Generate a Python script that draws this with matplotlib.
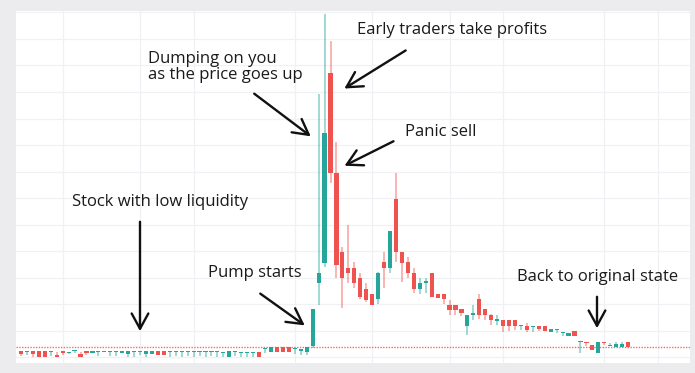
import matplotlib.pyplot as plt
import numpy as np

# OHLC of the daily candles (price units, 103 days)
opens = [1.256, 1.22, 1.256, 1.256, 1.256, 1.22, 1.094, 1.256, 1.16, 1.245,
         1.132, 1.256, 1.16, 1.22, 1.256, 1.22, 1.22, 1.16, 1.132, 1.22,
         1.22, 1.132, 1.132, 1.256, 1.256, 1.22, 1.22, 1.22, 1.22, 1.22,
         1.22, 1.22, 1.22, 1.22, 1.18, 1.008, 1.22, 1.18, 1.18, 1.18,
         1.22, 1.31, 1.218, 1.407, 1.407, 1.407, 1.31, 1.256, 1.196, 1.433,
         3.795, 4.571, 11.715, 7.949, 4.985, 4.382, 4.382, 3.983, 3.58, 3.392,
         3.192, 4.586, 4.36, 6.958, 4.985, 4.586, 4.194, 3.58, 3.795, 4.194,
         3.38, 3.38, 2.978, 2.978, 2.816, 2.187, 2.601, 3.192, 2.816, 2.601,
         2.386, 2.413, 2.413, 2.413, 2.187, 2.187, 2.16, 2.187, 2.187, 1.972,
         2.024, 1.911, 1.821, 2.01, 1.596, 1.596, 1.471, 1.181, 1.596, 1.414,
         1.407, 1.407, 1.596]
highs = [1.256, 1.256, 1.256, 1.256, 1.26, 1.256, 1.22, 1.256, 1.22, 1.282,
         1.22, 1.256, 1.256, 1.256, 1.256, 1.256, 1.256, 1.256, 1.256, 1.256,
         1.256, 1.256, 1.256, 1.256, 1.256, 1.256, 1.256, 1.256, 1.256, 1.256,
         1.256, 1.256, 1.256, 1.256, 1.22, 1.256, 1.256, 1.22, 1.22, 1.22,
         1.22, 1.345, 1.407, 1.407, 1.407, 1.407, 1.345, 1.31, 1.407, 2.82,
         10.924, 13.937, 12.92, 9.116, 5.173, 5.99, 4.597, 4.171, 3.795, 3.39,
         4.232, 4.985, 5.765, 7.96, 4.985, 4.797, 4.36, 3.983, 3.983, 4.194,
         3.38, 3.38, 3.166, 2.978, 2.816, 2.601, 2.978, 3.392, 2.816, 2.639,
         2.601, 2.413, 2.413, 2.413, 2.224, 2.311, 2.187, 2.187, 2.187, 2.062,
         2.074, 1.934, 1.934, 2.01, 1.633, 1.596, 1.471, 1.596, 1.596, 1.546,
         1.584, 1.565, 1.596]
lows = [1.07, 1.094, 1.008, 1.03, 1.0, 1.07, 1.0, 1.094, 1.132, 1.16,
        1.0, 1.094, 1.16, 1.07, 1.22, 1.07, 1.07, 1.16, 1.03, 1.03,
        1.094, 1.03, 1.132, 1.094, 1.094, 1.03, 1.05, 1.03, 1.05, 1.03,
        1.05, 1.03, 1.05, 1.03, 1.03, 1.0, 1.05, 1.03, 1.03, 1.03,
        1.0, 1.16, 1.218, 1.196, 1.196, 1.196, 1.132, 1.094, 1.094, 1.36,
        2.978, 4.409, 7.572, 3.995, 2.853, 3.795, 3.607, 3.192, 3.102, 2.978,
        3.015, 3.607, 4.194, 4.608, 3.844, 3.983, 3.418, 3.392, 3.418, 3.279,
        3.23, 3.015, 2.601, 2.601, 2.563, 1.848, 2.413, 2.439, 2.413, 2.224,
        2.224, 1.972, 2.0, 2.036, 2.036, 1.972, 1.972, 2.01, 2.01, 1.972,
        1.911, 1.81, 1.821, 1.81, 1.181, 1.445, 1.271, 1.181, 1.471, 1.414,
        1.407, 1.407, 1.407]
closes = [1.132, 1.256, 1.132, 1.03, 1.008, 1.256, 1.008, 1.18, 1.19, 1.282,
          1.008, 1.16, 1.256, 1.256, 1.22, 1.256, 1.256, 1.256, 1.256, 1.256,
          1.256, 1.256, 1.256, 1.094, 1.094, 1.256, 1.256, 1.256, 1.256, 1.256,
          1.256, 1.256, 1.256, 1.256, 1.22, 1.256, 1.256, 1.22, 1.22, 1.22,
          1.008, 1.345, 1.407, 1.196, 1.196, 1.196, 1.345, 1.31, 1.407, 2.816,
          4.194, 9.455, 7.949, 4.484, 3.983, 4.171, 3.795, 3.279, 3.166, 2.978,
          4.194, 4.36, 5.765, 4.985, 4.571, 4.194, 3.569, 3.795, 3.893, 3.279,
          3.23, 3.192, 2.789, 2.789, 2.688, 2.601, 2.688, 2.601, 2.601, 2.413,
          2.439, 2.187, 2.187, 2.187, 2.224, 2.036, 2.187, 2.062, 2.01, 2.062,
          2.036, 1.934, 1.934, 1.81, 1.633, 1.535, 1.271, 1.596, 1.535, 1.452,
          1.497, 1.497, 1.407]

# date grid lines (candle index)
vgrid_days = [7, 20, 29, 46, 59, 72, 81, 98, 107]

notes = ["Early traders take profits", "Dumping on you\nas the price goes up", "Panic sell",
         "Stock with low liquidity", "Pump starts", "Back to original state"]

UP = '#26a69a'
DOWN = '#ef5350'
W, H = 695, 373


def px(x, y):
    # pixel (from top-left) -> figure fraction
    return (x / W, 1 - y / H)


fig = plt.figure(figsize=(W / 100, H / 100), dpi=100)
fig.patch.set_facecolor('#ececee')
ax = fig.add_axes([16 / W, 1 - 363 / H, (690 - 16) / W, (363 - 11) / H])
ax.set_facecolor('white')

x = np.arange(len(opens))
o = np.array(opens)
c = np.array(closes)
hi = np.array(highs)
lo = np.array(lows)
col = np.where(c >= o, UP, DOWN)

ax.vlines(x, lo, hi, colors=col, lw=1.1, alpha=0.55, zorder=2)
bottom = np.minimum(o, c)
height = np.maximum(np.abs(c - o), 0.04)
ax.bar(x, height, bottom=bottom, width=0.7, color=col, linewidth=0, zorder=3)

ax.axhline(closes[-1], color='#f26d70', ls=(0, (1, 1)), lw=1, zorder=1)

for d in vgrid_days:
    ax.axvline(d, color='#f0f1f4', lw=0.9, zorder=0)
for k in range(1, 15):
    ax.axhline(k, color='#f0f1f4', lw=0.9, zorder=0)

ax.set_xlim(-0.84, 112.4)
ax.set_ylim(0.79, 14.05)
ax.set_xticks([])
ax.set_yticks([])
for s in ax.spines.values():
    s.set_visible(False)

font = dict(family='Open Sans', fontsize=12, color='#1a1a1a')
fig.text(*px(357, 30), notes[0], va='center', ha='left', **font)
fig.text(*px(148, 67), notes[1], va='center', ha='left', linespacing=1.05, **font)
fig.text(*px(405, 132), notes[2], va='center', ha='left', **font)
fig.text(*px(72, 202), notes[3], va='center', ha='left', **font)
fig.text(*px(208, 273), notes[4], va='center', ha='left', **font)
fig.text(*px(517, 277), notes[5], va='center', ha='left', **font)

arrows = [((252, 92), (313, 138)),
          ((408, 49), (342, 90)),
          ((396, 140), (342, 167)),
          ((140, 219), (140, 334)),
          ((258, 292), (307, 327)),
          ((597, 294), (597, 331))]
for start, end in arrows:
    fig.patches.append(plt.matplotlib.patches.FancyArrowPatch(
        px(*start), px(*end), transform=fig.transFigure,
        arrowstyle='->,head_length=0.55,head_width=0.3', mutation_scale=20,
        lw=1.7, color='#111111'))

fig.savefig('out.png', dpi=100, facecolor=fig.get_facecolor())
